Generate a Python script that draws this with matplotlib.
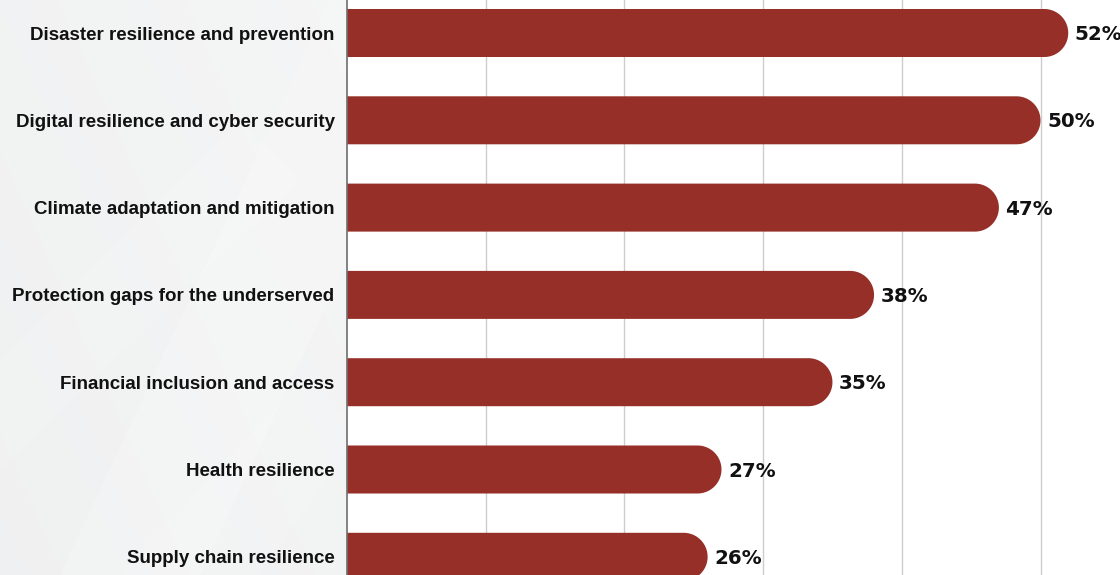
import numpy as np
import matplotlib
matplotlib.use("Agg")
import matplotlib.pyplot as plt
from matplotlib.patches import Polygon
from matplotlib.transforms import offset_copy

categories = [
    "Disaster resilience and prevention",
    "Digital resilience and cyber security",
    "Climate adaptation and mitigation",
    "Protection gaps for the underserved",
    "Financial inclusion and access",
    "Health resilience",
    "Supply chain resilience",
]
values = [52, 50, 47, 38, 35, 27, 26]
value_labels = ["52%", "50%", "47%", "38%", "35%", "27%", "26%"]
grid_ticks = [10, 20, 30, 40, 50]

BAR_COLOR = "#952f27"
W, H, DPI = 1120, 575, 100

fig = plt.figure(figsize=(W / DPI, H / DPI), dpi=DPI)
fig.patch.set_facecolor("#f3f4f5")

# soft grey backdrop with faint diagonal light bands
bg = fig.add_axes([0, 0, 1, 1], zorder=-10)
bg.set_xlim(0, W)
bg.set_ylim(H, 0)
bg.axis("off")
yy, xx = np.mgrid[0:H, 0:W]
shade = 0.945 + 0.035 * (xx / W) + 0.008 * (1 - yy / H)
bg.imshow(np.dstack([shade * 0.995, shade * 0.998, shade * 1.0]).clip(0, 1),
          extent=(0, W, H, 0), aspect="auto", interpolation="bilinear")
for pts, a in [([(60, 575), (200, 575), (470, 0), (330, 0)], 0.18),
               ([(0, 360), (0, 470), (300, 180), (240, 120)], 0.12),
               ([(120, 575), (260, 575), (360, 430), (300, 380)], 0.1)]:
    bg.add_patch(Polygon(pts, closed=True, facecolor="white", edgecolor="none", alpha=a))

# plot area
left_px = 347
px_per_unit = 13.87
ax = fig.add_axes([left_px / W, 0, 1 - left_px / W, 1])
ax.set_facecolor("white")
ax.set_xlim(0, (W - left_px) / px_per_unit)
spacing_px = 87.3
first_px = 33
ax.set_ylim((H - first_px) / spacing_px, -first_px / spacing_px)

bar_h = 48 / spacing_px
r_data = (48 / 2) / px_per_unit

for g in grid_ticks:
    ax.axvline(g, color="#cdcdcd", lw=1.0, zorder=0)

ypos = np.arange(len(categories))

# bars with a semicircular right end; the left end sits on the axis
theta = np.linspace(-np.pi / 2, np.pi / 2, 60)
for y, v in zip(ypos, values):
    xc = v - r_data
    arc_x = xc + r_data * np.cos(theta)
    arc_y = y + (bar_h / 2) * np.sin(theta)
    pts = np.vstack([[0, y - bar_h / 2]] + list(zip(arc_x, arc_y)) + [[0, y + bar_h / 2]])
    ax.add_patch(Polygon(pts, closed=True, facecolor=BAR_COLOR,
                         edgecolor="none", zorder=2))

# value labels: digits centred vertically on each bar
lab_tr = offset_copy(ax.transData, fig=fig, x=0, y=-7, units="dots")
for y, v, lab in zip(ypos, values, value_labels):
    ax.text(v + 6.5 / px_per_unit, y, lab, va="baseline", ha="left",
            fontsize=14.3, fontweight="bold", color="#111111",
            family="DejaVu Sans", clip_on=False, transform=lab_tr)

ax.set_yticks(ypos)
ax.set_yticklabels(categories, fontsize=13.5, fontweight="bold",
                   family="Liberation Sans", color="#111111")
ax.tick_params(axis="y", length=0, pad=9)
ax.set_xticks([])
for s in ["top", "right", "bottom"]:
    ax.spines[s].set_visible(False)
ax.spines["left"].set_color("#6e6e6e")
ax.spines["left"].set_linewidth(1.2)

fig.savefig("out.png", dpi=DPI)
